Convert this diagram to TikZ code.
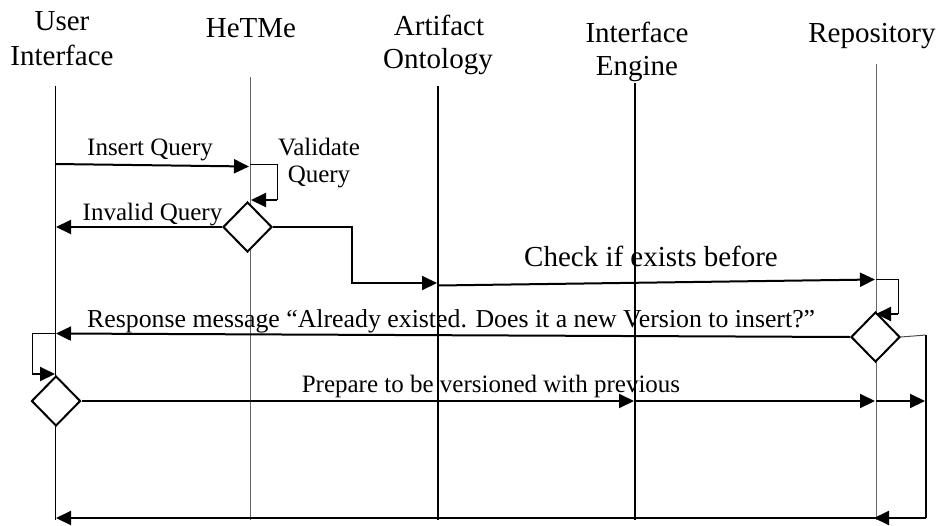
\documentclass[tikz,border=0pt]{standalone}
\usepackage{fontspec}
\setmainfont{Liberation Serif}
\usetikzlibrary{arrows.meta,shapes.geometric}
\begin{document}
\begin{tikzpicture}[x=1pt,y=-1pt,
  head/.style={font=\fontsize{29}{34}\selectfont, inner sep=0pt, anchor=base},
  lbl/.style={font=\fontsize{25}{28}\selectfont, inner sep=0pt, anchor=base},
  lifethin/.style={line width=1pt, black},
  lifegray/.style={line width=1pt, black!60},
  lifethick/.style={line width=2pt, black},
  msg/.style={line width=2pt, -{Triangle[length=15pt,width=14pt]}},
  loopline/.style={line width=1pt},
  dec/.style={diamond, draw, line width=2pt, fill=white, minimum width=49pt, minimum height=50pt, inner sep=0pt},
]
\useasboundingbox (0,0) rectangle (945,525);

% headers
\node[head] (h-ui1) at (62,30) {User};
\node[head] (h-ui2) at (62,65) {Interface};
\node[head] (h-he) at (251,37) {HeTMe};
\node[head] (h-ao1) at (439,35) {Artifact};
\node[head] (h-ao2) at (438,68) {Ontology};
\node[head] (h-ie1) at (637,42) {Interface};
\node[head] (h-ie2) at (637,75) {Engine};
\node[head] (h-re) at (872,42) {Repository};

% lifelines
\coordinate (ui-t) at (55,86);   \coordinate (ui-b) at (55,520);
\coordinate (he-t) at (250,77);  \coordinate (he-b) at (250,520);
\coordinate (ao-t) at (438,86);  \coordinate (ao-b) at (438,520);
\coordinate (ie-t) at (635,83);  \coordinate (ie-b) at (635,520);
\coordinate (re-t) at (876,64);  \coordinate (re-b) at (876,520);
\draw[lifethin] (ui-t) -- (ui-b);
\draw[lifegray] (he-t) -- (he-b);
\draw[lifethick] (ao-t) -- (ao-b);
\draw[lifethick] (ie-t) -- (ie-b);
\draw[lifegray] (re-t) -- (re-b);

% decision diamonds
\node[dec] (d1) at (247.5,227) {};
\node[dec] (d2) at (875.5,337) {};
\node[dec] (d3) at (56,401) {};

% Insert Query
\coordinate (iq-s) at (55,164);
\coordinate (iq-e) at (249,166.5);
\draw[msg] (iq-s) -- (iq-e);
\node[lbl] (l-iq) at (150,155) {Insert Query};

% Validate Query self loop
\coordinate (vq-s) at (250,164.5);
\coordinate (vq-c) at (277,200);
\coordinate (vq-e) at (251,200);
\draw[loopline] (vq-s) -| (vq-c);
\draw[msg] (vq-c) -- (vq-e);
\node[lbl] (l-vq1) at (319,155) {Validate};
\node[lbl] (l-vq2) at (319,182) {Query};

% Invalid Query
\coordinate (inv-e) at (56,227);
\draw[msg] (d1.west) -- (inv-e);
\node[lbl] (l-inv) at (152.5,220) {Invalid Query};

% to Artifact Ontology
\coordinate (ao-c) at (352,283);
\coordinate (ao-e) at (437,283);
\draw[msg] (d1.east) -| (ao-c) -- (ao-e);

% Check if exists before
\coordinate (ck-s) at (438,285.5);
\coordinate (ck-e) at (875,279.5);
\draw[msg] (ck-s) -- (ck-e);
\node[head] (l-ck) at (651,266.5) {Check if exists before};

% Repository self loop
\coordinate (rl-s) at (876,279.5);
\coordinate (rl-c) at (898,314);
\coordinate (rl-e) at (876,314);
\draw[loopline] (rl-s) -| (rl-c);
\draw[msg] (rl-c) -- (rl-e);

% Response message
\coordinate (rs-e) at (56,333.5);
\draw[msg] (d2.west) -- (rs-e);
\node[lbl, font=\fontsize{25.8}{28}\selectfont, anchor=base west] (l-rs) at (87,327) {Response message “Already existed. Does it a new Version to insert?”};

% User Interface self loop
\coordinate (ul-s) at (55,333.5);
\coordinate (ul-c) at (32,374);
\coordinate (ul-e) at (55,374);
\draw[loopline] (ul-s) -| (ul-c);
\draw[msg] (ul-c) -- (ul-e);

% Prepare to be versioned with previous
\coordinate (pr-a) at (634,401);
\coordinate (pr-b) at (635,401);
\coordinate (pr-c) at (875,401);
\coordinate (pr-d) at (876,401);
\coordinate (pr-e) at (925,401);
\draw[msg] (d3.east) -- (pr-a);
\draw[msg] (pr-b) -- (pr-c);
\draw[msg] (pr-d) -- (pr-e);
\node[lbl] (l-pr) at (491,392) {Prepare to be versioned with previous};

% right return path and final message
\coordinate (rr-a) at (926,335);
\coordinate (rr-b) at (926,518);
\coordinate (rr-e) at (874,518);
\coordinate (fin-s) at (876,518);
\coordinate (fin-e) at (56,518);
\draw[line width=1pt, black!70] (d2.east) -- (rr-a);
\draw[line width=2pt] (rr-a) -- (rr-b);
\draw[msg] (rr-b) -- (rr-e);
\draw[msg] (fin-s) -- (fin-e);
\end{tikzpicture}
\end{document}
